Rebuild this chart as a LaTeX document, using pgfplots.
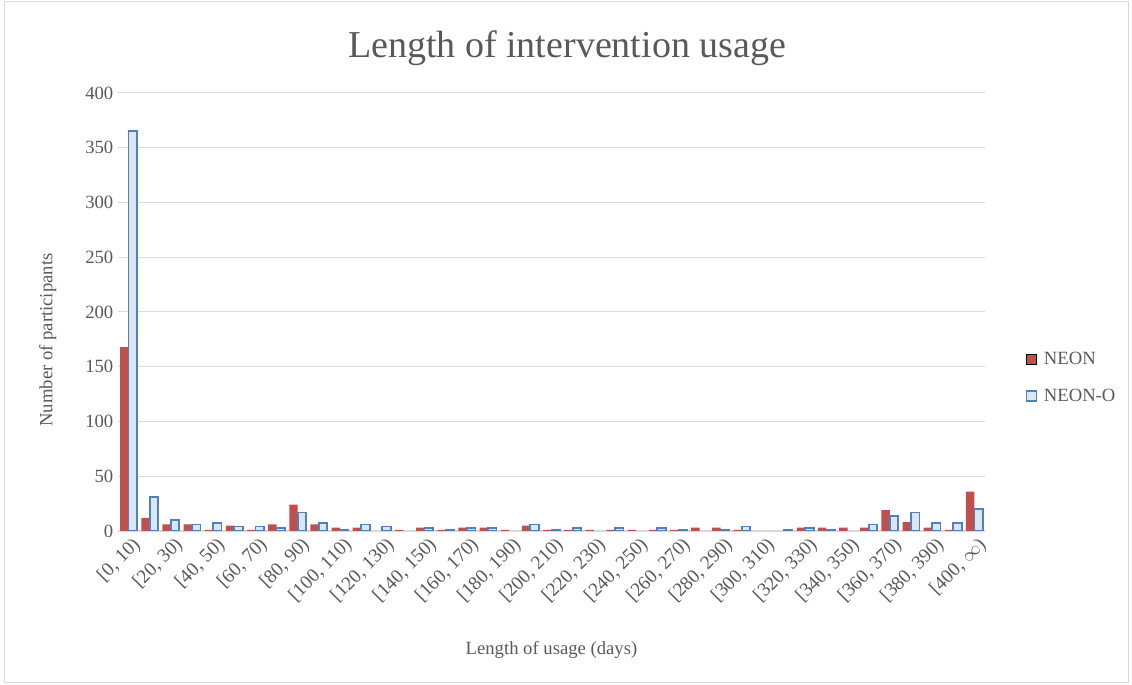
\documentclass[border=0pt]{standalone}
\usepackage{fontspec}
\setmainfont{Liberation Serif}
\usepackage{pgfplots}
\pgfplotsset{compat=1.18}
\definecolor{neon}{HTML}{C0504D}
\definecolor{neonoE}{HTML}{4F81BD}
\definecolor{neonoF}{HTML}{DCE6F2}
\definecolor{txt}{HTML}{595959}
\definecolor{grd}{HTML}{D9D9D9}
\begin{document}
\begin{tikzpicture}
\useasboundingbox (0,0) rectangle (849pt,513.75pt);
\draw[grd, line width=0.75pt] (3pt,1.5pt) rectangle (846pt,512.25pt);
\begin{axis}[
  at={(88.5pt,115.5pt)}, anchor=south west,
  scale only axis, width=650.25pt, height=328.5pt,
  xmin=-0.5, xmax=40.5, ymin=0, ymax=400,
  ybar=0pt, bar width=0.4,
  ytick={0,50,...,400},
  xtick={0,2,...,40},
  xticklabels={{[0, 10)},{[20, 30)},{[40, 50)},{[60, 70)},{[80, 90)},{[100, 110)},{[120, 130)},{[140, 150)},{[160, 170)},{[180, 190)},{[200, 210)},{[220, 230)},{[240, 250)},{[260, 270)},{[280, 290)},{[300, 310)},{[320, 330)},{[340, 350)},{[360, 370)},{[380, 390)},{[400, $\infty$)}},
  xticklabel style={rotate=45, anchor=north east, font=\fontsize{14.5}{16}\selectfont, text=txt, inner sep=1pt, yshift=-3pt},
  yticklabel style={font=\fontsize{14}{16}\selectfont, text=txt},
  /pgf/number format/assume math mode=true,
  major tick length=0pt,
  ymajorgrids, grid style={grd, line width=0.75pt},
  axis x line*=bottom, axis y line*=left,
  x axis line style={grd, line width=0.9pt, -},
  y axis line style={draw=none},
  title={Length of intervention usage},
  title style={at={(0.518,1.085)}, anchor=center, font=\fontsize{28.5}{32}\selectfont, text=txt},
  xlabel={Length of usage (days)},
  xlabel style={at={(axis description cs:0.5,-0.272)}, anchor=center, font=\fontsize{14}{16}\selectfont, text=txt},
  ylabel={Number of participants},
  ylabel style={at={(axis description cs:-0.081,0.436)}, anchor=center, rotate=0, font=\fontsize{14}{16}\selectfont, text=txt},
  legend style={at={(1.042,0.35)}, anchor=west, draw=none, fill=none, font=\fontsize{14}{16}\selectfont, text=txt, row sep=13pt, legend cell align=left},
  legend image code/.code={\draw[#1] (0pt,-3.75pt) rectangle (7.5pt,3.75pt); \path[draw=none, fill=none] (0pt,0pt) -- (11pt,0pt);},
]
\addplot[fill=neon, draw=none] coordinates {
(0,168) (1,12) (2,6) (3,6) (4,1) (5,5) (6,1) (7,6) (8,24) (9,6)
(10,3) (11,3) (13,1) (14,3) (15,1) (16,3) (17,3) (18,1) (19,5)
(20,1) (21,1) (22,1) (23,1) (24,1) (25,1) (26,1) (27,3) (28,3) (29,1)
(32,3) (33,3) (34,3) (35,3) (36,19) (37,8) (38,3) (39,1) (40,36)};
\addplot[fill=neonoF, draw=neonoE, line width=1.3pt] coordinates {
(0,365) (1,31) (2,10) (3,6) (4,7) (5,4) (6,4) (7,3) (8,17) (9,7)
(10,1) (11,6) (12,4) (14,3) (15,1) (16,3) (17,3) (19,6)
(20,1) (21,3) (23,3) (25,3) (26,1) (28,1) (29,4)
(31,1) (32,3) (33,1) (35,6) (36,14) (37,17) (38,7) (39,7) (40,20)};
\legend{NEON, NEON-O}
\end{axis}
\end{tikzpicture}
\end{document}
